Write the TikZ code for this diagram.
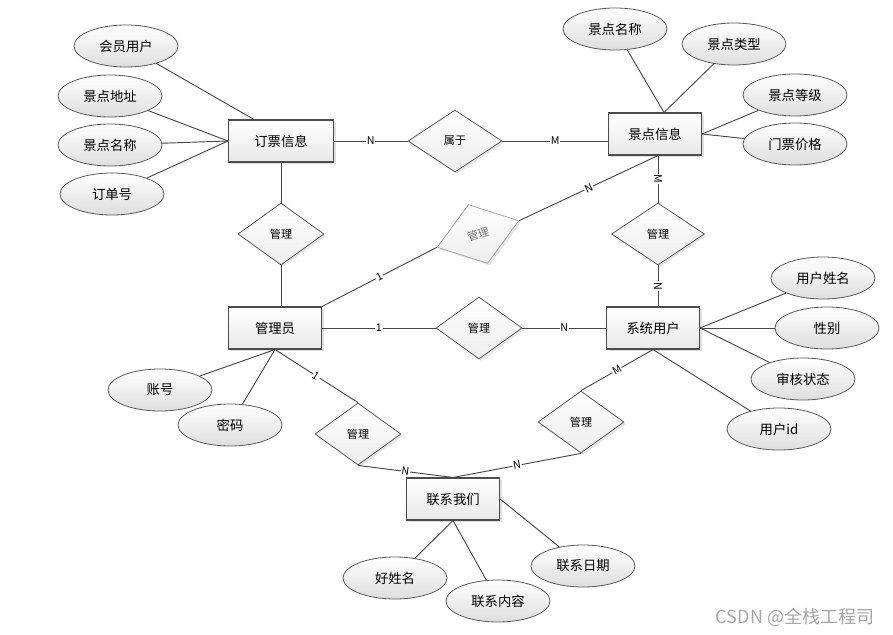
\documentclass[tikz,border=0pt]{standalone}
\usepackage{fontspec}
\setmainfont{Noto Sans CJK SC}
\usetikzlibrary{shapes.geometric, shadows}

\begin{document}
\begin{tikzpicture}[x = 0.75pt, y = -0.75pt,
        entity/.style = {draw = black!70, line width = 0.8pt, top color = white, bottom color = black!9,
            drop shadow = {opacity = 0.25, shadow xshift = 1.8pt, shadow yshift = -1.8pt},
            minimum width = 69.75pt, minimum height = 31.5pt, font = \fontsize{10}{12}\selectfont},
        attr/.style = {ellipse, draw = black!65, line width = 0.6pt, top color = white, bottom color = black!13,
            minimum width = 78pt, minimum height = 31.5pt, inner sep = 0pt, font = \fontsize{10}{12}\selectfont},
        rel/.style = {diamond, draw = black!65, line width = 0.6pt, top color = white, bottom color = black!7,
            drop shadow = {opacity = 0.2, shadow xshift = 1.5pt, shadow yshift = -1.5pt},
            minimum width = 64.5pt, minimum height = 46.5pt, inner sep = 0pt, font = \fontsize{8.3}{10}\selectfont},
        conn/.style = {draw = black!72, line width = 0.7pt},
        card/.style = {fill = white, inner sep = 0.6pt, font = \fontsize{8}{9}\selectfont}]
        \path[use as bounding box, fill = white] (0, 0) rectangle (893, 635);

        \node[entity, minimum width = 78.75pt] (dpxx) at (281, 141) {订票信息};
        \node[entity] (jdxx) at (655, 134) {景点信息};
        \node[entity] (gly) at (275, 328) {管理员};
        \node[entity] (xtyh) at (653, 328) {系统用户};
        \node[entity] (lxwm) at (453, 499) {联系我们};

        \node[rel, minimum width = 70.5pt] (sy) at (455, 141) {属于};
        \node[rel] (gl1) at (281, 234) {管理};
        \node[rel, rotate = 18, draw = black!35, text = black!55] (gl2) at (478, 234) {管理};
        \node[rel, minimum width = 69.75pt] (gl3) at (658, 234) {管理};
        \node[rel] (gl4) at (479, 328) {管理};
        \node[rel] (gl5) at (358, 434) {管理};
        \node[rel] (gl6) at (581, 422) {管理};

        \node[attr] (hyyh) at (126, 46) {会员用户};
        \node[attr] (jddz) at (110, 96) {景点地址};
        \node[attr] (jdmc1) at (110, 145) {景点名称};
        \node[attr] (ddh) at (112, 194) {订单号};
        \node[attr] (jdmc2) at (615, 29) {景点名称};
        \node[attr] (jdlx) at (734, 44) {景点类型};
        \node[attr] (jddj) at (795, 95) {景点等级};
        \node[attr] (mpjg) at (795, 144) {门票价格};
        \node[attr] (yhxm) at (823, 278) {用户姓名};
        \node[attr] (xb) at (827, 328) {性别};
        \node[attr] (shzt) at (803, 379) {审核状态};
        \node[attr] (yhid) at (779, 429) {用户id};
        \node[attr] (zh) at (160, 390) {账号};
        \node[attr] (mm) at (230, 425) {密码};
        \node[attr] (hxm) at (395, 578) {好姓名};
        \node[attr] (lxnr) at (498, 601) {联系内容};
        \node[attr] (lxrq) at (583, 566) {联系日期};

        \draw[conn] (hyyh) -- ([xshift = 19.5pt] dpxx.north west);
        \draw[conn] (jddz) -- (dpxx.west);
        \draw[conn] (jdmc1) -- (dpxx.west);
        \draw[conn] (ddh) -- (dpxx.west);
        \draw[conn] (jdmc2) -- ([xshift = 6.75pt] jdxx.north);
        \draw[conn] (jdlx) -- ([xshift = 6.75pt] jdxx.north);
        \draw[conn] (jddj) -- (jdxx.east);
        \draw[conn] (mpjg) -- (jdxx.east);
        \draw[conn] (yhxm) -- (xtyh.east);
        \draw[conn] (xb) -- (xtyh.east);
        \draw[conn] (shzt) -- (xtyh.east);
        \draw[conn] (yhid) -- (xtyh.south);
        \draw[conn] (zh) -- (gly.south);
        \draw[conn] (mm) -- (gly.south);
        \draw[conn] (hxm) -- (lxwm.south);
        \draw[conn] (lxnr) -- (lxwm.south);
        \draw[conn] (lxrq) -- (lxwm.east);

        \draw[conn] (dpxx.east) -- (sy.west) node[card, midway] {N};
        \draw[conn] (sy.east) -- (sy.east -| jdxx.west) node[card, midway] {M};
        \draw[conn] (dpxx) -- (gl1);
        \draw[conn] (gl1.south) -- (gl1.south |- gly.north);
        \draw[conn] (gly.north east) -- (gl2.west) node[card, midway, sloped] {1};
        \draw[conn] (gl2.east) -- ([xshift = 2.25pt] jdxx.south) node[card, midway, sloped] {N};
        \draw[conn] ([xshift = 2.25pt] jdxx.south) -- (gl3.north) node[card, midway, sloped] {M};
        \draw[conn] (gl3.south) -- (gl3.south |- xtyh.north) node[card, midway, sloped] {N};
        \draw[conn] (gly.east) -- (gl4.west) node[card, midway] {1};
        \draw[conn] (gl4.east) -- (xtyh.west) node[card, midway] {N};
        \draw[conn] (gly.south) -- (gl5.north) node[card, midway, sloped] {1};
        \draw[conn] (gl5.south) -- (lxwm.north) node[card, midway, sloped] {N};
        \draw[conn] (gl6.south) -- (lxwm.north) node[card, midway, sloped] {N};
        \draw[conn] (gl6.north) -- (xtyh.south) node[card, midway, sloped] {M};

        \node[text = black!35, font = \fontsize{13.5}{15}\selectfont] (wm) at (795, 617) {CSDN @全栈工程司};
    \end{tikzpicture}
\end{document}
